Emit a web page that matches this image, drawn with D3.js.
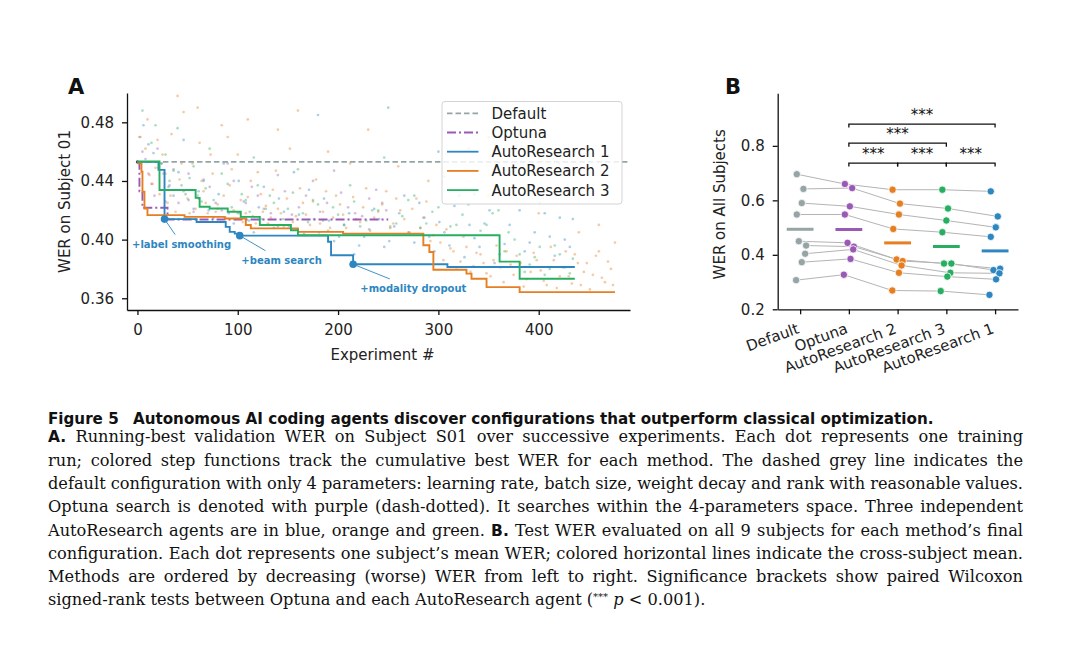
<!DOCTYPE html>
<html><head><meta charset="utf-8">
<script src="https://cdn.jsdelivr.net/npm/d3@7"></script>
<style>body{margin:0;background:#fff}</style></head>
<body>
<svg id="c" width="1080" height="645"></svg>
<script>
// ---------------- DATA: panel A ----------------
const xTicksA = [0, 100, 200, 300, 400];
const yTicksA = [0.36, 0.40, 0.44, 0.48];
const defaultWER = 0.453;
// running-best step functions: [experiment, WER] change points
const stepOptuna = [[0,0.4525],[2,0.433],[5,0.4217],[30,0.4137],[250,0.4137]];
const stepAR1 = [[0,0.453],[21,0.4476],[27,0.414],[59,0.412],[88,0.4087],[92,0.4053],[97,0.4041],[102,0.4027],[190,0.3985],[193,0.3893],[215,0.3832],[309,0.3813],[436,0.3813]];
const stepAR2 = [[0,0.452],[4,0.4463],[5,0.4326],[7,0.4212],[10,0.4167],[47,0.4155],[87,0.4144],[108,0.41],[113,0.4077],[160,0.4053],[205,0.4041],[285,0.3962],[291,0.3916],[295,0.3795],[328,0.3768],[333,0.3733],[348,0.3676],[381,0.3642],[476,0.3642]];
const stepAR3 = [[0,0.4533],[22,0.4338],[58,0.4285],[62,0.4224],[72,0.4212],[90,0.419],[103,0.4155],[122,0.41],[153,0.4064],[160,0.403],[361,0.385],[381,0.3733],[436,0.3733]];
// individual runs (estimated)
const runsOptuna = [[2,0.47],[8,0.455],[14,0.438],[20,0.462],[28,0.426],[36,0.448],[46,0.433],[56,0.419],[66,0.441],[78,0.425],[90,0.452],[102,0.418],[114,0.436],[126,0.421],[140,0.444],[154,0.417],[168,0.43],[182,0.419],[196,0.447],[210,0.422],[224,0.416],[238,0.434],[248,0.42],
 [5,0.46],[11,0.445],[17,0.43],[24,0.452],[32,0.437],[41,0.425],[51,0.445],[61,0.428],[72,0.436],[84,0.42],[96,0.44],[108,0.425],[120,0.43],[133,0.418],[147,0.433],[161,0.422],[175,0.44],[189,0.425],[203,0.432],[217,0.418],[231,0.428],[244,0.425]];
const runsAR1 = [[6,0.478],[16,0.459],[26,0.445],[36,0.43],[46,0.468],[56,0.421],[66,0.44],[76,0.415],[86,0.452],[96,0.411],[106,0.426],[116,0.405],[126,0.436],[136,0.408],[146,0.419],[156,0.446],[166,0.404],[176,0.414],[186,0.428],[196,0.399],[206,0.41],[216,0.39],[226,0.402],[236,0.421],[246,0.395],[256,0.409],[266,0.43],[276,0.398],[286,0.415],[296,0.392],[306,0.405],[316,0.423],[326,0.388],[336,0.401],[346,0.411],[356,0.384],[366,0.397],[376,0.43],[386,0.392],[396,0.405],[406,0.418],[416,0.389],[426,0.4],[434,0.414],[300,0.46],[180,0.485],
 [11,0.465],[21,0.449],[31,0.436],[41,0.446],[51,0.427],[61,0.433],[71,0.42],[81,0.431],[91,0.418],[101,0.44],[111,0.413],[121,0.422],[131,0.41],[141,0.428],[151,0.409],[161,0.417],[171,0.434],[181,0.405],[191,0.413],[201,0.402],[211,0.418],[221,0.396],[231,0.407],[241,0.414],[251,0.399],[261,0.418],[271,0.405],[281,0.425],[291,0.402],[301,0.412],[311,0.396],[321,0.43],[331,0.41],[341,0.395],[351,0.42],[361,0.39],[371,0.41],[381,0.42],[391,0.398],[401,0.425],[411,0.402],[421,0.415],[431,0.395]];
const runsAR2 = [[3,0.47],[8,0.462],[12,0.444],[15,0.438],[18,0.449],[22,0.431],[25,0.458],[30,0.425],[34,0.472],[38,0.419],[42,0.441],[46,0.487],[50,0.428],[55,0.452],[58,0.421],[62,0.466],[66,0.433],[70,0.418],[75,0.445],[80,0.424],[84,0.478],[88,0.415],[92,0.437],[96,0.42],[100,0.458],[105,0.412],[110,0.429],[115,0.416],[120,0.446],[125,0.419],[130,0.411],[135,0.434],[140,0.421],[146,0.409],[152,0.462],[158,0.416],[165,0.425],[172,0.41],[178,0.441],[185,0.419],[192,0.408],[198,0.43],[205,0.417],[212,0.452],[218,0.414],[225,0.422],[232,0.406],[240,0.419],[248,0.433],[255,0.411],[262,0.42],[270,0.405],[278,0.428],[285,0.415],[292,0.399],[298,0.41],[305,0.386],[312,0.394],[318,0.381],[325,0.402],[332,0.378],[338,0.391],[345,0.384],[352,0.375],[358,0.396],[365,0.371],[372,0.383],[378,0.389],[385,0.368],[392,0.378],[398,0.386],[405,0.372],[412,0.395],[418,0.367],[424,0.381],[430,0.375],[436,0.39],[442,0.369],[448,0.384],[454,0.376],[460,0.392],[466,0.371],[472,0.38],[476,0.398],[40,0.498],[60,0.49],[110,0.482],[160,0.488],[230,0.475],[330,0.462],[420,0.452],[460,0.41],
 [28,0.445],[33,0.43],[44,0.452],[52,0.418],[64,0.44],[68,0.425],[73,0.458],[78,0.419],[86,0.43],[94,0.448],[98,0.414],[103,0.427],[108,0.418],[113,0.44],[118,0.411],[123,0.431],[128,0.423],[133,0.415],[138,0.447],[143,0.418],[149,0.428],[155,0.412],[162,0.435],[168,0.417],[175,0.426],[182,0.411],[188,0.433],[195,0.415],[202,0.424],[208,0.408],[215,0.429],[222,0.412],[228,0.435],[236,0.415],[244,0.424],[252,0.409],[258,0.428],[266,0.414],[274,0.421],[282,0.408],[288,0.426],[295,0.403],[302,0.398],[308,0.407],[315,0.392],[322,0.385],[328,0.395],[335,0.382],[342,0.39],[348,0.377],[355,0.386],[362,0.381],[368,0.392],[375,0.376],[382,0.384],[388,0.373],[395,0.391],[402,0.379],[408,0.369],[415,0.386],[421,0.375],[427,0.392],[433,0.37],[439,0.384],[445,0.378],[451,0.366],[457,0.389],[463,0.374],[469,0.385],[474,0.369],[10,0.482],[20,0.468],[90,0.47],[140,0.475],[190,0.46],[260,0.45],[290,0.44],[350,0.43],[400,0.418],[440,0.405]];
const runsAR3 = [[5,0.488],[14,0.466],[24,0.452],[32,0.44],[40,0.476],[48,0.431],[56,0.45],[64,0.426],[72,0.462],[80,0.421],[90,0.438],[100,0.418],[108,0.427],[116,0.456],[124,0.414],[132,0.43],[140,0.409],[150,0.421],[160,0.448],[170,0.412],[180,0.424],[190,0.406],[200,0.417],[212,0.437],[222,0.409],[234,0.42],[246,0.456],[258,0.411],[270,0.427],[282,0.408],[294,0.419],[306,0.443],[318,0.41],[330,0.424],[342,0.406],[354,0.418],[366,0.392],[376,0.4],[386,0.378],[396,0.388],[406,0.376],[416,0.396],[426,0.381],[434,0.387],[250,0.49],[350,0.47],
 [18,0.478],[28,0.458],[36,0.447],[44,0.437],[52,0.442],[60,0.43],[68,0.435],[76,0.427],[84,0.445],[94,0.422],[104,0.431],[112,0.419],[120,0.437],[128,0.421],[136,0.425],[145,0.414],[155,0.432],[165,0.418],[175,0.427],[185,0.413],[195,0.422],[206,0.41],[216,0.426],[228,0.413],[240,0.42],[252,0.408],[264,0.416],[276,0.43],[288,0.411],[300,0.422],[312,0.409],[324,0.417],[336,0.431],[348,0.41],[360,0.42],[370,0.405],[381,0.39],[391,0.383],[401,0.395],[411,0.38],[421,0.39],[431,0.377]];
const annotLabels = ["+label smoothing", "+beam search", "+modality dropout"];
const annotPoints = [[27,0.414],[102,0.4027],[215,0.3832]];
const annotTextAt = [[44,0.397],[143.7,0.386],[275,0.3668]];
const legendLabels = ["Default","Optuna","AutoResearch 1","AutoResearch 2","AutoResearch 3"];

// ---------------- DATA: panel B ----------------
const catsB = ["Default","Optuna","AutoResearch 2","AutoResearch 3","AutoResearch 1"];
const yTicksB = [0.2, 0.4, 0.6, 0.8];
const werDefault = [0.696,0.642,0.590,0.548,0.450,0.434,0.404,0.373,0.307];
const werOptuna  = [0.660,0.645,0.578,0.548,0.444,0.430,0.420,0.385,0.327];
const werAR2     = [0.639,0.588,0.548,0.495,0.383,0.377,0.361,0.334,0.269];
const werAR3     = [0.639,0.570,0.526,0.483,0.368,0.368,0.334,0.320,0.267];
const werAR1     = [0.633,0.541,0.501,0.466,0.349,0.344,0.332,0.310,0.253];
const jitDefault = [-0.068,0.068,0.034,-0.068,-0.027,0.123,0.103,0.034,-0.082];
const jitOptuna  = [-0.082,0.068,0.02,-0.082,-0.027,0.103,0.089,0.034,-0.103];
const jitAR2     = [-0.103,0.048,0.027,-0.089,-0.02,0.103,0.082,0.027,-0.109];
const jitAR3     = [-0.082,0.034,0,-0.082,-0.048,0.103,0.082,0.02,-0.116];
const jitAR1     = [-0.089,0.055,0.014,-0.089,0.103,-0.034,0.089,0.02,-0.116];
const bracketPairs  = [[1,2],[2,3],[3,4],[1,3],[1,4]];
const bracketLevels = [0.737,0.737,0.737,0.81,0.88];
const bracketLabels = ["***","***","***","***","***"];

// ---------------- caption ----------------
const captionTitle = ["Figure 5", "Autonomous AI coding agents discover configurations that outperform classical optimization."];
const captionLines = [
 [["A.","b"],[" Running-best validation WER on Subject S01 over successive experiments. Each dot represents one training","r"]],
 [["run; colored step functions track the cumulative best WER for each method. The dashed grey line indicates the","r"]],
 [["default configuration with only 4 parameters: learning rate, batch size, weight decay and rank with reasonable values.","r"]],
 [["Optuna search is denoted with purple (dash-dotted). It searches within the 4-parameters space. Three independent","r"]],
 [["AutoResearch agents are in blue, orange and green. ","r"],["B.","b"],[" Test WER evaluated on all 9 subjects for each method\u2019s final","r"]],
 [["configuration. Each dot represents one subject\u2019s mean WER; colored horizontal lines indicate the cross-subject mean.","r"]],
 [["Methods are ordered by decreasing (worse) WER from left to right. Significance brackets show paired Wilcoxon","r"]],
 [["signed-rank tests between Optuna and each AutoResearch agent (","r"],["***","sup"],[" ","r"],["p","i"],[" < 0.001).","r"]]
];

// ---------------- style ----------------
const FONT = "DejaVu Sans";
const C = {gray:"#95a5a6", purple:"#9b59b6", blue:"#2e86c1", orange:"#e67e22", green:"#27ae60"};
const svg = d3.select("#c");

function styleAxis(g){
  g.attr("font-family", FONT).attr("font-size", 15);
  g.select(".domain").attr("stroke","#111").attr("stroke-width",1.3);
  g.selectAll(".tick line").attr("stroke","#111").attr("stroke-width",1.3);
  g.selectAll(".tick text").attr("fill","#222");
}

// ================= PANEL A =================
const xA = d3.scaleLinear().domain([-10.4, 491]).range([127, 630]);
const yA = d3.scaleLinear().domain([0.352, 0.5]).range([310, 93]);

svg.append("clipPath").attr("id","clipA").append("rect")
  .attr("x", xA.range()[0]).attr("y", yA.range()[1])
  .attr("width", xA.range()[1]-xA.range()[0]).attr("height", yA.range()[0]-yA.range()[1]);
const gA = svg.append("g").attr("clip-path","url(#clipA)");

const runSets = [[runsOptuna,C.purple],[runsAR1,C.blue],[runsAR2,C.orange],[runsAR3,C.green]];
runSets.forEach(([pts,col])=>{
  gA.selectAll(null).data(pts).join("circle")
    .attr("cx",d=>xA(d[0])).attr("cy",d=>yA(d[1])).attr("r",1.35)
    .attr("fill",col).attr("opacity",0.4);
});
gA.append("circle").attr("cx",xA(0)).attr("cy",yA(defaultWER)).attr("r",1.6).attr("fill","#444");

gA.append("line").attr("x1",xA(0)).attr("x2",xA.range()[1])
  .attr("y1",yA(defaultWER)).attr("y2",yA(defaultWER))
  .attr("stroke",C.gray).attr("stroke-width",1.6).attr("stroke-dasharray","5.5,3");

const stepLine = d3.line().x(d=>xA(d[0])).y(d=>yA(d[1])).curve(d3.curveStepAfter);
const steps = [[stepOptuna,C.purple,"9,3,2,3"],[stepAR1,C.blue,null],[stepAR2,C.orange,null],[stepAR3,C.green,null]];
steps.forEach(([pts,col,dash])=>{
  gA.append("path").attr("d",stepLine(pts)).attr("fill","none")
    .attr("stroke",col).attr("stroke-width",1.9).attr("stroke-dasharray",dash);
});

// annotations
annotLabels.forEach((lab,i)=>{
  const px = xA(annotPoints[i][0]), py = yA(annotPoints[i][1]);
  const cx = xA(annotTextAt[i][0]), cy = yA(annotTextAt[i][1]);
  const t = svg.append("text").attr("x",cx).attr("y",cy).attr("dy","0.36em")
    .attr("text-anchor","middle").attr("font-family",FONT).attr("font-size",10)
    .attr("font-weight","bold").attr("fill",C.blue).text(lab);
  const b = t.node().getBBox(); const pad = 4;
  const dx = cx-px, dy = cy-py;
  const tx = dx>0 ? (b.x-pad-px)/dx : (b.x+b.width+pad-px)/dx;
  const ty = dy>0 ? (b.y-pad-py)/dy : (b.y+b.height+pad-py)/dy;
  const tt = Math.max(0, Math.min(1, Math.max(tx,ty)));
  svg.append("line").attr("x1",px).attr("y1",py).attr("x2",px+dx*tt).attr("y2",py+dy*tt)
    .attr("stroke",C.blue).attr("stroke-width",0.9);
  svg.append("circle").attr("cx",px).attr("cy",py).attr("r",3.8).attr("fill",C.blue);
});

// axes A
const axA_x = svg.append("g").attr("transform",`translate(0,${yA.range()[0]})`)
  .call(d3.axisBottom(xA).tickValues(xTicksA).tickFormat(d3.format("d")).tickSize(5).tickSizeOuter(0).tickPadding(9));
styleAxis(axA_x);
const axA_y = svg.append("g").attr("transform",`translate(${xA.range()[0]},0)`)
  .call(d3.axisLeft(yA).tickValues(yTicksA).tickFormat(d3.format(".2f")).tickSize(5).tickSizeOuter(0).tickPadding(8));
styleAxis(axA_y);

svg.append("text").attr("x",(xA.range()[0]+xA.range()[1])/2+4).attr("y",360)
  .attr("text-anchor","middle").attr("font-family",FONT).attr("font-size",15).attr("fill","#222").text("Experiment #");
svg.append("text").attr("transform",`translate(70,${(yA.range()[0]+yA.range()[1])/2}) rotate(-90)`)
  .attr("text-anchor","middle").attr("font-family",FONT).attr("font-size",15).attr("fill","#222").text("WER on Subject 01");
svg.append("text").attr("x",68).attr("y",94).attr("font-family",FONT).attr("font-size",21)
  .attr("font-weight","bold").attr("fill","#111").text("A");

// legend
const legStyles = [[C.gray,"5.5,3"],[C.purple,"9,3,2,3"],[C.blue,null],[C.orange,null],[C.green,null]];
const leg = svg.append("g");
leg.append("rect").attr("x",442).attr("y",101.5).attr("width",180).attr("height",102.5).attr("rx",3)
  .attr("fill","#fff").attr("fill-opacity",0.82).attr("stroke","#d4d4d4").attr("stroke-width",1);
legendLabels.forEach((lab,i)=>{
  const cy = 113.3 + i*19.2;
  leg.append("line").attr("x1",447).attr("x2",478.5).attr("y1",cy).attr("y2",cy)
    .attr("stroke",legStyles[i][0]).attr("stroke-width",1.8).attr("stroke-dasharray",legStyles[i][1]);
  leg.append("text").attr("x",491.5).attr("y",cy).attr("dy","0.36em").attr("font-family",FONT)
    .attr("font-size",15).attr("fill","#222").text(lab);
});

// ================= PANEL B =================
const xB = d3.scaleLinear().domain([-0.46, 4.47]).range([777.7, 1018]);
const yB = d3.scaleLinear().domain([0.2, 0.993]).range([309.3, 93.3]);
const methodVals = [werDefault, werOptuna, werAR2, werAR3, werAR1];
const methodJit  = [jitDefault, jitOptuna, jitAR2, jitAR3, jitAR1];
const methodCol  = [C.gray, C.purple, C.orange, C.green, C.blue];

const gB = svg.append("g");
d3.range(werDefault.length).forEach(s=>{
  const pts = methodVals.map((v,m)=>[xB(m+methodJit[m][s]), yB(v[s])]);
  gB.append("path").attr("d",d3.line()(pts)).attr("fill","none")
    .attr("stroke","#b4b4b4").attr("stroke-width",1);
});
methodVals.forEach((v,m)=>{
  const mu = d3.mean(v);
  gB.append("line").attr("x1",xB(m-0.275)).attr("x2",xB(m+0.275)).attr("y1",yB(mu)).attr("y2",yB(mu))
    .attr("stroke",methodCol[m]).attr("stroke-width",3);
});
methodVals.forEach((v,m)=>{
  gB.selectAll(null).data(v).join("circle")
    .attr("cx",(d,s)=>xB(m+methodJit[m][s])).attr("cy",d=>yB(d)).attr("r",3.7)
    .attr("fill",methodCol[m]).attr("stroke","#fff").attr("stroke-width",0.8);
});
bracketPairs.forEach((p,i)=>{
  const yl = yB(bracketLevels[i]), h = 3.5;
  gB.append("path").attr("d",`M${xB(p[0])},${yl+h}V${yl}H${xB(p[1])}V${yl+h}`)
    .attr("fill","none").attr("stroke","#111").attr("stroke-width",1.3);
  gB.append("text").attr("x",(xB(p[0])+xB(p[1]))/2).attr("y",yl-4.5).attr("text-anchor","middle")
    .attr("font-family",FONT).attr("font-size",15).attr("fill","#111").text(bracketLabels[i]);
});
const axB_x = svg.append("g").attr("transform",`translate(0,${yB.range()[0]})`)
  .call(d3.axisBottom(xB).tickValues(d3.range(catsB.length)).tickFormat("").tickSize(5).tickSizeOuter(0));
styleAxis(axB_x);
catsB.forEach((c,i)=>{
  svg.append("text").attr("transform",`translate(${xB(i)-4},322) rotate(-20)`)
    .attr("text-anchor","end").attr("dy","0.76em").attr("font-family",FONT).attr("font-size",15)
    .attr("fill","#222").text(c);
});
const axB_y = svg.append("g").attr("transform",`translate(${xB.range()[0]},0)`)
  .call(d3.axisLeft(yB).tickValues(yTicksB).tickFormat(d3.format(".1f")).tickSize(5).tickSizeOuter(0).tickPadding(8));
styleAxis(axB_y);
svg.append("text").attr("transform",`translate(725,${(yB.range()[0]+yB.range()[1])/2+3}) rotate(-90)`)
  .attr("text-anchor","middle").attr("font-family",FONT).attr("font-size",15).attr("fill","#222").text("WER on All Subjects");
svg.append("text").attr("x",725).attr("y",94).attr("font-family",FONT).attr("font-size",21)
  .attr("font-weight","bold").attr("fill","#111").text("B");

// ================= CAPTION =================
const capX = 48, capRight = 1023;
const title = svg.append("text").attr("x",capX).attr("y",424).attr("font-family",FONT)
  .attr("font-weight","bold").attr("font-size",14).attr("fill","#111");
title.append("tspan").text(captionTitle[0]);
title.append("tspan").attr("dx",9).text(" " + captionTitle[1]);
const tw = title.node().getComputedTextLength();
title.attr("font-size", 14*877/tw);

captionLines.forEach((segs,li)=>{
  const t = svg.append("text").attr("x",capX).attr("y",442.3+li*23.3)
    .attr("font-family","DejaVu Serif").attr("font-size",16.2).attr("fill","#111")
    .style("white-space","pre");
  segs.forEach(([s,k])=>{
    const sp = t.append("tspan").text(s);
    if(k==="b") sp.attr("font-family",FONT).attr("font-weight","bold").attr("font-size",15.5);
    if(k==="i") sp.attr("font-style","italic");
    if(k==="sup") sp.attr("font-size",10).attr("baseline-shift","super");
  });
  if(li < captionLines.length-1){
    const w = t.node().getComputedTextLength();
    const n = segs.map(s=>s[0]).join("").split(" ").length-1;
    t.attr("word-spacing", Math.max(-2.5,(capRight-capX-w)/n));
  }
});
</script>
</body></html>
